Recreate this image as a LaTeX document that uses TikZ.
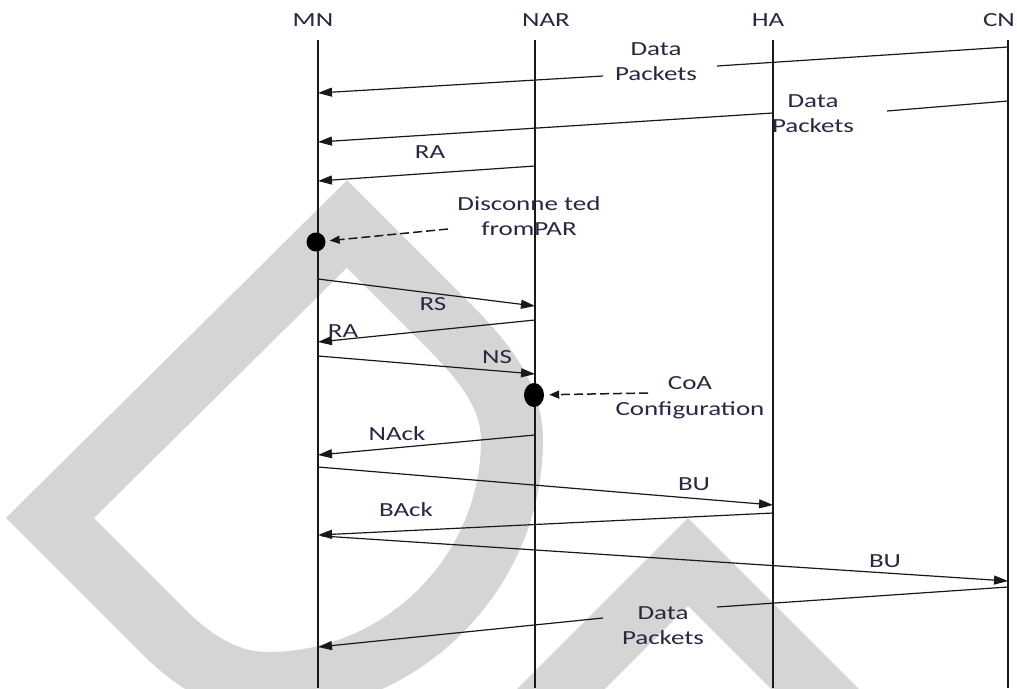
\documentclass[tikz,border=0pt]{standalone}
\usepackage{fontspec}
\setmainfont{Carlito}[FakeStretch=1.35]
\usetikzlibrary{arrows.meta,shapes.geometric}
\definecolor{wm}{RGB}{213,213,213}
\definecolor{txt}{RGB}{40,40,65}
\definecolor{ln}{RGB}{25,25,25}
\begin{document}
\begin{tikzpicture}[x=1pt,y=-1pt,
  lbl/.style={text=txt, font=\fontsize{20}{25.5}\selectfont, inner sep=0pt, align=center},
  msg/.style={draw=ln, line width=1.2pt, -{Triangle[length=14pt,width=9pt]}},
  seg/.style={draw=ln, line width=1.2pt},
  life/.style={draw=ln, line width=1.9pt},
  dsh/.style={draw=ln, line width=1.5pt, dash pattern=on 9pt off 4pt, -{Triangle[length=10pt,width=8pt]}},
  dotn/.style={circle, fill=black, minimum size=19pt, inner sep=0pt},
  dote/.style={ellipse, fill=black, minimum width=20pt, minimum height=24pt, inner sep=0pt},
  wmark/.style={draw=wm, line width=62pt, line join=miter}
  ]
\useasboundingbox (0,0) rectangle (1017,688);
\fill[white] (0,0) rectangle (1017,688);
% watermark
\draw[wmark] (347,224) -- (50,518) -- (164,632) .. controls (194,662) and (228,683) .. (268,683)
  .. controls (402,683) and (512,573) .. (512,440) .. controls (512,390) and (475,352) .. (440,317) -- cycle;
\draw[wmark] (488,762) -- (688,562) -- (888,762);
% headers
\node[lbl, anchor=base] (MN) at (313,26) {MN};
\node[lbl, anchor=base] (NAR) at (546,26) {NAR};
\node[lbl, anchor=base] (HA) at (768,26) {HA};
\node[lbl, anchor=base] (CN) at (999,26) {CN};
% lifelines
\coordinate (mnT) at (318,40);  \coordinate (mnB) at (318,688);
\coordinate (narT) at (535,40); \coordinate (narB) at (535,688);
\coordinate (haT) at (773,40);  \coordinate (haB) at (773,688);
\coordinate (cnT) at (1008,40); \coordinate (cnB) at (1008,688);
\draw[life] (mnT) -- (mnB);
\draw[life] (narT) -- (narB);
\draw[life] (haT) -- (haB);
\draw[life] (cnT) -- (cnB);
% Data packets 1
\coordinate (a1) at (1008,47); \coordinate (a2) at (717,66);
\coordinate (a3) at (603,76);  \coordinate (a4) at (318,93);
\draw[seg] (a1) -- (a2); \draw[msg] (a3) -- (a4);
\node[lbl] (dp1) at (656,61.5) {Data\\Packets};
% Data packets 2
\coordinate (b1) at (1008,101); \coordinate (b2) at (887,111);
\coordinate (b3) at (773,113);  \coordinate (b4) at (318,142);
\draw[seg] (b1) -- (b2); \draw[msg] (b3) -- (b4);
\node[lbl] (dp2) at (813,113.5) {Data\\Packets};
% RA
\coordinate (c1) at (535,166); \coordinate (c2) at (318,181);
\draw[msg] (c1) -- (c2);
\node[lbl, anchor=base] (ra1) at (430,158) {RA};
% disconnected
\node[dotn] (d1) at (316,242) {};
\coordinate (d1s) at (448,229);
\draw[dsh, shorten >=4pt] (d1s) -- (d1);
\node[lbl] (disc) at (529,216) {Disconne ted\\fromPAR};
% RS
\coordinate (e1) at (318,279); \coordinate (e2) at (535,306);
\draw[msg] (e1) -- (e2);
\node[lbl, anchor=base] (rs) at (433,310) {RS};
% RA 2
\coordinate (f1) at (535,320); \coordinate (f2) at (318,342);
\draw[msg] (f1) -- (f2);
\node[lbl, anchor=base] (ra2) at (343,337) {RA};
% NS
\coordinate (g1) at (318,356); \coordinate (g2) at (535,374);
\draw[msg] (g1) -- (g2);
\node[lbl, anchor=base] (ns) at (497,363) {NS};
% CoA
\node[dote] (d2) at (534,395) {};
\coordinate (d2s) at (648,393);
\draw[dsh, shorten >=5pt] (d2s) -- (d2);
\node[lbl] (coa) at (690,397.5) {CoA\\Configuration};
% NAck
\coordinate (h1) at (535,435); \coordinate (h2) at (318,455);
\draw[msg] (h1) -- (h2);
\node[lbl, anchor=base] (nack) at (397,440) {NAck};
% BU 1
\coordinate (i1) at (318,467); \coordinate (i2) at (773,505);
\draw[msg] (i1) -- (i2);
\node[lbl, anchor=base] (bu1) at (694,490) {BU};
% BAck
\coordinate (j1) at (773,513); \coordinate (j2) at (318,535);
\draw[msg] (j1) -- (j2);
\node[lbl, anchor=base] (back) at (406,516) {BAck};
% BU 2
\coordinate (k1) at (322,536); \coordinate (k2) at (1008,581);
\draw[msg] (k1) -- (k2);
\node[lbl, anchor=base] (bu2) at (885,567) {BU};
% Data packets 3
\coordinate (l1) at (1008,587); \coordinate (l2) at (717,607);
\coordinate (l3) at (603,618);  \coordinate (l4) at (318,647);
\draw[seg] (l1) -- (l2); \draw[msg] (l3) -- (l4);
\node[lbl] (dp3) at (663,625.5) {Data\\Packets};
\end{tikzpicture}
\end{document}
